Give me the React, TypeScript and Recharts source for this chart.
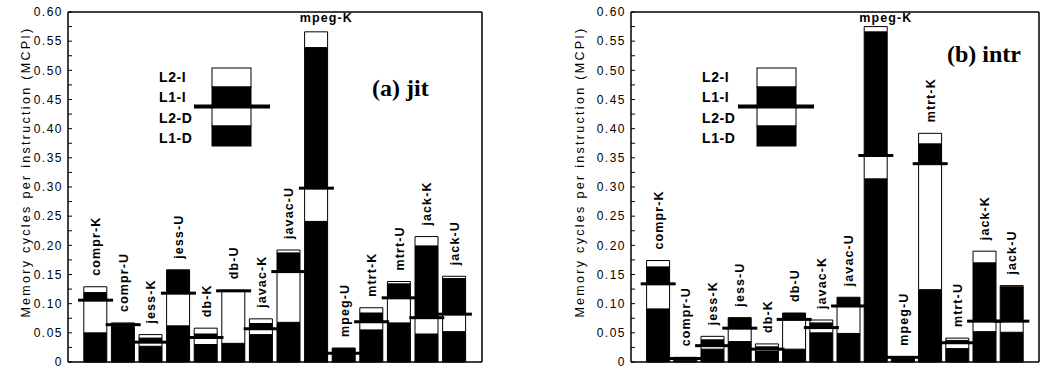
import React from 'react';
import { ComposedChart, Bar, Line, XAxis, YAxis, LabelList } from 'recharts';

// ---- data ----
const categories = ['compr-K', 'compr-U', 'jess-K', 'jess-U', 'db-K', 'db-U', 'javac-K', 'javac-U', 'mpeg-K', 'mpeg-U', 'mtrt-K', 'mtrt-U', 'jack-K', 'jack-U'];

// (a) jit
const jitL1D = [0.050, 0.061, 0.027, 0.062, 0.030, 0.032, 0.047, 0.068, 0.241, 0.014, 0.055, 0.067, 0.048, 0.052];
const jitL2D = [0.056, 0.003, 0.007, 0.056, 0.012, 0.090, 0.010, 0.087, 0.057, 0.001, 0.014, 0.043, 0.028, 0.030];
const jitL1I = [0.013, 0.001, 0.007, 0.039, 0.006, 0.000, 0.009, 0.032, 0.241, 0.008, 0.015, 0.024, 0.123, 0.061];
const jitL2I = [0.010, 0.002, 0.006, 0.001, 0.010, 0.001, 0.008, 0.005, 0.027, 0.001, 0.009, 0.004, 0.016, 0.004];

// (b) intr
const intrL1D = [0.091, 0.003, 0.022, 0.035, 0.018, 0.022, 0.050, 0.049, 0.314, 0.007, 0.124, 0.023, 0.052, 0.051];
const intrL2D = [0.043, 0.003, 0.006, 0.023, 0.004, 0.051, 0.009, 0.047, 0.040, 0.001, 0.216, 0.010, 0.018, 0.019];
const intrL1I = [0.029, 0.001, 0.010, 0.018, 0.004, 0.011, 0.008, 0.015, 0.212, 0.001, 0.034, 0.004, 0.100, 0.059];
const intrL2I = [0.011, 0.001, 0.006, 0.000, 0.005, 0.000, 0.005, 0.000, 0.009, 0.000, 0.018, 0.004, 0.020, 0.002];

const yMajorTicks = [0, 0.05, 0.1, 0.15, 0.2, 0.25, 0.3, 0.35, 0.4, 0.45, 0.5, 0.55, 0.6];
const yMajorLabels = ['0', '0.05', '0.10', '0.15', '0.20', '0.25', '0.30', '0.35', '0.40', '0.45', '0.50', '0.55', '0.60'];
const yMinorTicks = [0.025, 0.075, 0.125, 0.175, 0.225, 0.275, 0.325, 0.375, 0.425, 0.475, 0.525, 0.575];

const legendLabels = ['L2-I', 'L1-I', 'L2-D', 'L1-D'];
const yAxisTitle = 'Memory cycles per instruction (MCPI)';
const panelTitles = ['(a) jit', '(b) intr'];

// ---- style ----
const SANS = "'Liberation Sans', Arial, Helvetica, sans-serif";
const SERIF = "'Liberation Serif', 'Times New Roman', serif";
const allTicks = [...yMajorTicks, ...yMinorTicks].sort((a, b) => a - b);
const fmtTick = (v: number) => {
  const i = yMajorTicks.findIndex((t) => Math.abs(t - v) < 1e-9);
  return i >= 0 ? yMajorLabels[i] : '';
};

const PLOT_TOP = 12;
const BAR_SIZE = 23;

function makeLabel(plotTop: number) {
  return (props: any) => {
    const vb = props.viewBox || {};
    const cx = props.x ?? vb.x;
    const top = props.y ?? vb.y;
    if (cx == null || top == null) return null;
    const common = { fontFamily: SANS, fontWeight: 700 as const, fontSize: 12.5, fill: '#000', letterSpacing: 1.1 };
    if (top - plotTop < 60) {
      return (
        <text key={`l${props.index}`} x={cx + 10} y={plotTop + 9.5} textAnchor="middle" {...common}>
          {props.value}
        </text>
      );
    }
    return (
      <text key={`l${props.index}`} transform={`translate(${cx + 4.5},${top - 11}) rotate(-90)`} textAnchor="start" {...common}>
        {props.value}
      </text>
    );
  };
}

const MarkerDot = (props: any) => {
  const { cx, cy, index } = props;
  if (cx == null || cy == null) return <g key={`m${index}`} />;
  return <rect key={`m${index}`} x={cx - 17.5} y={cy - 1.5} width={35} height={3} fill="#000" />;
};

type PanelProps = {
  left: number;
  width: number;
  marginLeft: number;
  marginRight: number;
  l1d: number[];
  l2d: number[];
  l1i: number[];
  l2i: number[];
};

function Panel({ left, width, marginLeft, marginRight, l1d, l2d, l1i, l2i }: PanelProps) {
  const data = categories.map((name, i) => ({
    name,
    l1d: l1d[i],
    l2d: l2d[i],
    l1i: l1i[i],
    l2i: l2i[i],
    marker: l1d[i] + l2d[i],
    total: l1d[i] + l2d[i] + l1i[i] + l2i[i],
  }));
  const yW = 60;
  const plotW = width - marginLeft - yW - marginRight - 1;
  const pad = plotW / 30;
  const tickStyle = { fontSize: 12, fill: '#000', fontFamily: SANS, letterSpacing: 1.5 };
  return (
    <div style={{ position: 'absolute', left, top: 0 }}>
      <ComposedChart
        width={width}
        height={368}
        data={data}
        margin={{ top: PLOT_TOP - 1, right: marginRight, bottom: 5, left: marginLeft }}
        barGap={0}
      >
        <XAxis
          dataKey="name"
          xAxisId={0}
          orientation="bottom"
          height={1}
          padding={{ left: pad, right: pad }}
          tick={false}
          tickSize={-4}
          tickLine={{ stroke: '#000' }}
          axisLine={{ stroke: '#000', strokeWidth: 1.5 }}
          interval={0}
        />
        <XAxis
          dataKey="name"
          xAxisId="top"
          orientation="top"
          height={1}
          padding={{ left: pad, right: pad }}
          tick={false}
          tickSize={-4}
          tickLine={{ stroke: '#000' }}
          axisLine={{ stroke: '#000', strokeWidth: 1.5 }}
          interval={0}
        />
        <YAxis
          yAxisId={0}
          type="number"
          domain={[0, 0.6]}
          ticks={allTicks}
          interval={0}
          width={yW}
          tickSize={-4}
          tickMargin={9}
          tickFormatter={fmtTick}
          tick={tickStyle}
          tickLine={{ stroke: '#000' }}
          axisLine={{ stroke: '#000', strokeWidth: 1.5 }}
        />
        <YAxis
          yAxisId="r"
          orientation="right"
          type="number"
          domain={[0, 0.6]}
          ticks={allTicks}
          interval={0}
          width={1}
          tickSize={-4}
          tick={false}
          tickLine={{ stroke: '#000' }}
          axisLine={{ stroke: '#000', strokeWidth: 1.5 }}
        />
        <Bar dataKey="l1d" stackId="s" fill="#000" stroke="#000" strokeWidth={1} barSize={BAR_SIZE} isAnimationActive={false} />
        <Bar dataKey="l2d" stackId="s" fill="#fff" stroke="#000" strokeWidth={1} barSize={BAR_SIZE} isAnimationActive={false} />
        <Bar dataKey="l1i" stackId="s" fill="#000" stroke="#000" strokeWidth={1} barSize={BAR_SIZE} isAnimationActive={false} />
        <Bar dataKey="l2i" stackId="s" fill="#fff" stroke="#000" strokeWidth={1} barSize={BAR_SIZE} isAnimationActive={false} />
        <Line
          dataKey="marker"
          stroke="none"
          dot={MarkerDot}
          activeDot={false}
          legendType="none"
          isAnimationActive={false}
        />
        <Line
          dataKey="total"
          stroke="none"
          dot={false}
          activeDot={false}
          legendType="none"
          isAnimationActive={false}
        >
          <LabelList dataKey="name" content={makeLabel(PLOT_TOP)} />
        </Line>
      </ComposedChart>
    </div>
  );
}

function Legend({ labelX, boxX, lineX1, lineX2 }: { labelX: number; boxX: number; lineX1: number; lineX2: number }) {
  const rows = [68, 87, 106.5, 126, 146];
  const fills = ['#fff', '#000', '#fff', '#000'];
  const baselines = [82, 102, 123, 143];
  return (
    <g>
      {legendLabels.map((t, i) => (
        <text key={t} x={labelX} y={baselines[i]} fontFamily={SANS} fontWeight={700} fontSize={14} letterSpacing={0.6} fill="#000">
          {t}
        </text>
      ))}
      {fills.map((f, i) => (
        <rect key={i} x={boxX} y={rows[i]} width={39} height={rows[i + 1] - rows[i]} fill={f} stroke="#000" strokeWidth={1} />
      ))}
      <rect x={lineX1} y={rows[2] - 2} width={lineX2 - lineX1} height={4} fill="#000" />
    </g>
  );
}

export default function App() {
  return (
    <div style={{ position: 'absolute', left: 0, top: 0, width: 1041, height: 368, background: '#fff', overflow: 'hidden' }}>
      <Panel left={0} width={500} marginLeft={8} marginRight={17} l1d={jitL1D} l2d={jitL2D} l1i={jitL1I} l2i={jitL2I} />
      <Panel left={560} width={481} marginLeft={11} marginRight={1} l1d={intrL1D} l2d={intrL2D} l1i={intrL1I} l2i={intrL2I} />
      <svg width={1041} height={368} style={{ position: 'absolute', left: 0, top: 0, pointerEvents: 'none' }}>
        <text transform="translate(30,172) rotate(-90)" textAnchor="middle" fontFamily={SANS} fontSize={12.5} letterSpacing={2.3} fill="#000">
          {yAxisTitle}
        </text>
        <text transform="translate(584,172) rotate(-90)" textAnchor="middle" fontFamily={SANS} fontSize={12.5} letterSpacing={2.3} fill="#000">
          {yAxisTitle}
        </text>
        <text x={372} y={96} fontFamily={SERIF} fontWeight={700} fontSize={24} fill="#000">
          {panelTitles[0]}
        </text>
        <text x={947} y={62} fontFamily={SERIF} fontWeight={700} fontSize={24} fill="#000">
          {panelTitles[1]}
        </text>
        <Legend labelX={159} boxX={212} lineX1={194} lineX2={270} />
        <Legend labelX={702} boxX={757} lineX1={738} lineX2={814} />
      </svg>
    </div>
  );
}
